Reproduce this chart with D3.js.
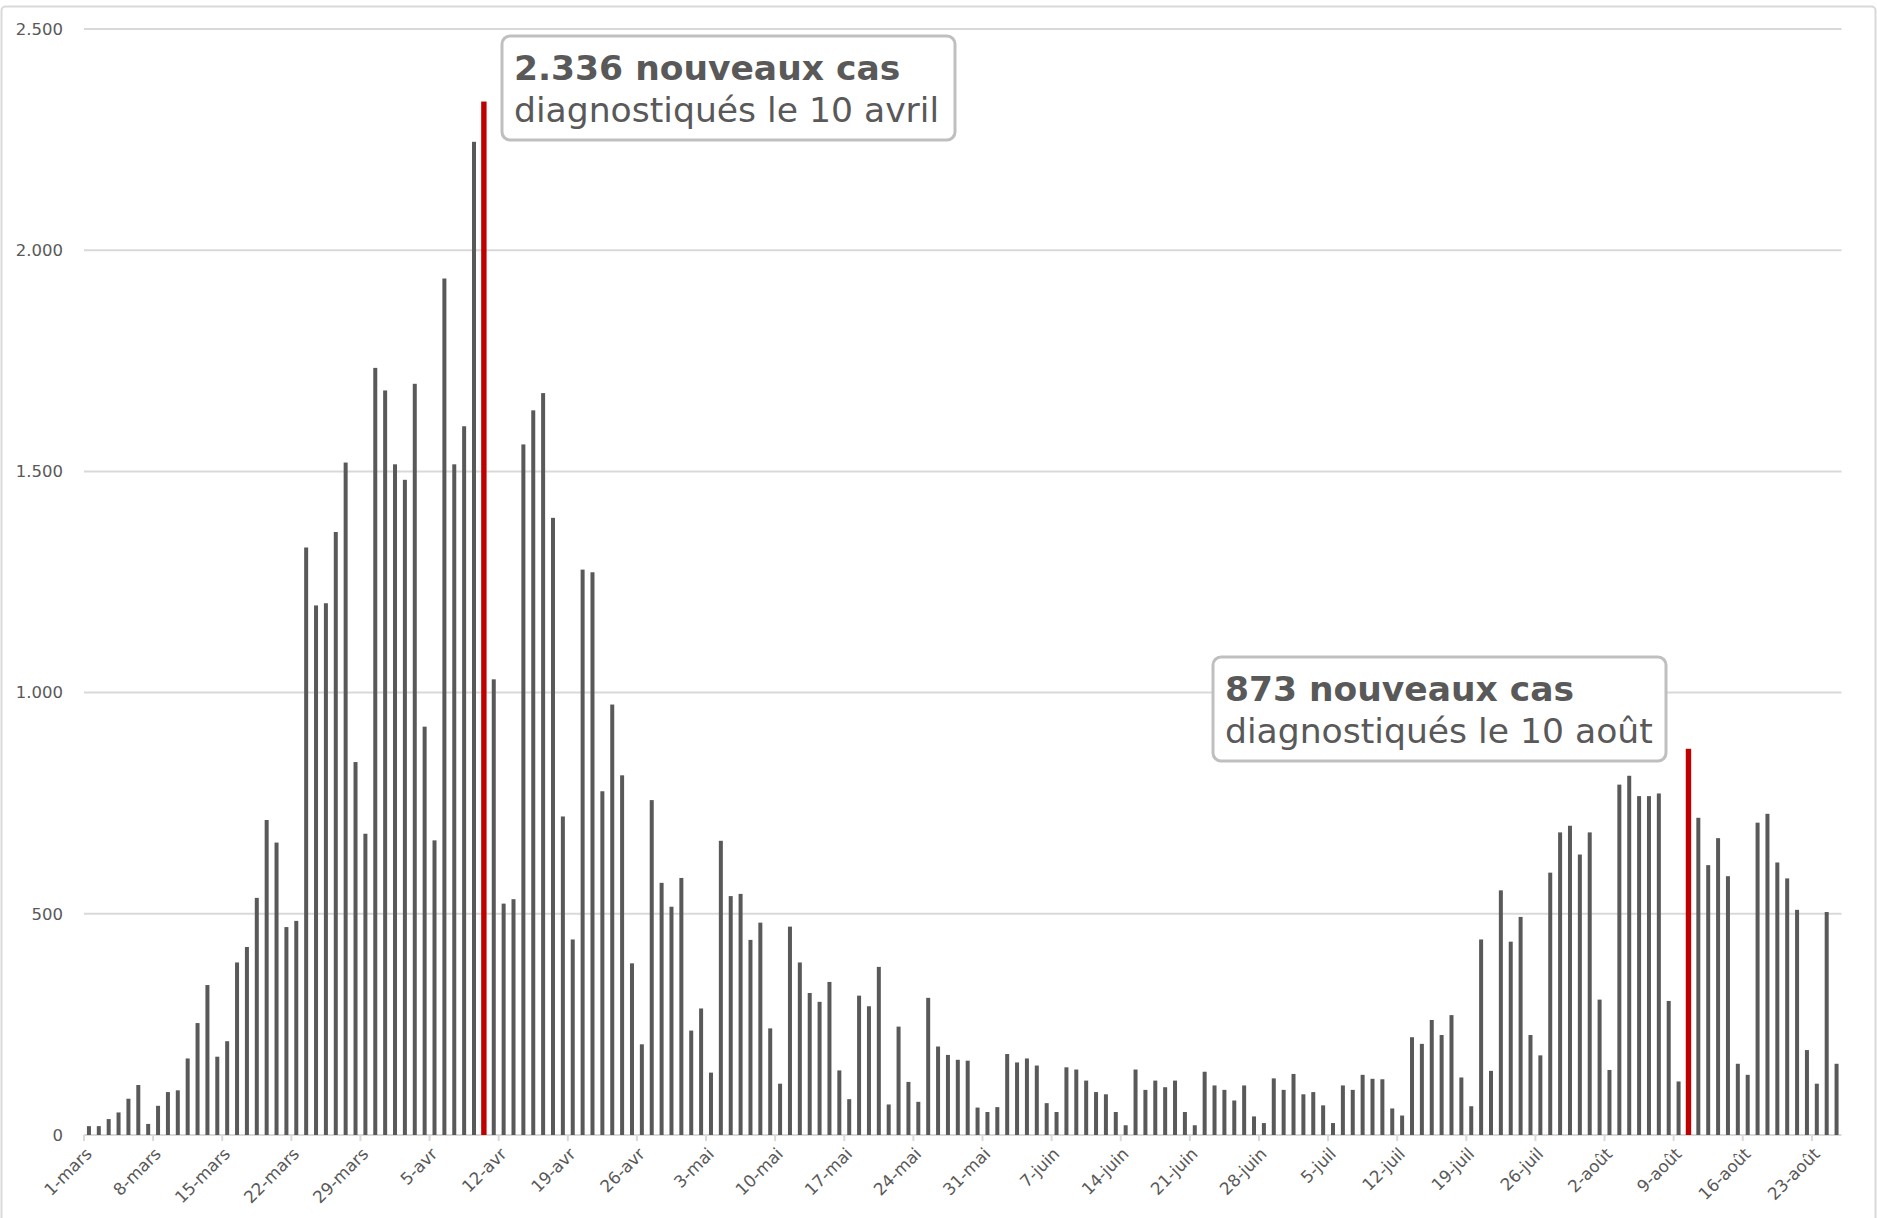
<!DOCTYPE html>
<html><head><meta charset="utf-8">
<script src="https://cdn.jsdelivr.net/npm/d3@7"></script>
<style>
html,body{margin:0;padding:0;background:#fff;}
svg{display:block;font-family:"DejaVu Sans",Verdana,sans-serif;}
</style></head>
<body>
<svg id="chart" width="1877" height="1218"></svg>
<script>
// Daily new cases, 1 March (index 0) to 25 August (index 177)
const cases = [
  20,20,36,51,82,113,25,66,97,101,173,253,339,177,212,390,425,536,712,661,470,484,1328,1197,1202,1363,1520,843,681,1734,1683,
  1516,1481,1698,923,666,1936,1516,1602,2245,2336,1030,523,533,1561,1638,1677,1395,720,442,1278,1272,777,973,813,388,205,757,570,516,
  581,236,286,141,665,540,545,441,480,241,116,471,390,321,301,346,146,81,315,291,380,69,245,120,75,310,200,181,170,168,62,
  52,63,183,164,173,157,72,52,153,148,123,97,92,52,22,148,102,123,108,123,52,22,143,112,102,78,112,42,27,128,
  102,138,92,97,67,27,112,102,136,127,126,60,44,221,206,260,226,271,130,65,442,145,553,437,493,226,180,593,684,699,634,684,306,
  147,792,812,766,766,772,303,121,873,717,610,671,585,161,136,706,726,616,580,509,192,116,504,161
];
const tickLabels = ["1-mars","8-mars","15-mars","22-mars","29-mars","5-avr","12-avr","19-avr","26-avr","3-mai","10-mai","17-mai","24-mai","31-mai","7-juin","14-juin","21-juin","28-juin","5-juil","12-juil","19-juil","26-juil","2-août","9-août","16-août","23-août"];
const yTicks = [0,500,1000,1500,2000,2500];
const highlighted = [40,162];
const annotations = [
  {index:40, bold:"2.336 nouveaux cas", text:"diagnostiqués le 10 avril"},
  {index:162, bold:"873 nouveaux cas", text:"diagnostiqués le 10 août"}
];

const svg = d3.select("#chart");
const grey = "#595959", gridC = "#d9d9d9";
const x0 = 84, x1 = 1841.5, yBase = 1135, yTop = 29;

const x = d3.scaleBand().domain(d3.range(cases.length)).range([x0, x1]).padding(0);
const y = d3.scaleLinear().domain([0, 2500]).range([yBase, yTop]);
const fmt = v => d3.format(",")(v).replace(/,/g, ".");

// outer frame
svg.append("rect").attr("x",1.5).attr("y",6.5).attr("width",1874).attr("height",1260)
  .attr("rx",4).attr("fill","none").attr("stroke",gridC).attr("stroke-width",2);

// gridlines
svg.append("g").selectAll("line").data(yTicks).join("line")
  .attr("x1", x0).attr("x2", x1)
  .attr("y1", d => y(d)).attr("y2", d => y(d))
  .attr("stroke", gridC).attr("stroke-width", 2);

// y labels
svg.append("g").selectAll("text").data(yTicks).join("text")
  .attr("x", 63).attr("y", d => y(d)).attr("dy","0.35em")
  .attr("text-anchor","end").attr("font-size",16.5).attr("fill",grey)
  .text(d => fmt(d));

// bars
const bw = 4;
svg.append("g").selectAll("rect").data(cases).join("rect")
  .attr("x", (d,i) => x(i) + x.bandwidth()/2 - (highlighted.includes(i) ? 2.7 : bw/2))
  .attr("width", (d,i) => highlighted.includes(i) ? 5.4 : bw)
  .attr("y", d => y(d))
  .attr("height", d => yBase - y(d))
  .attr("fill", (d,i) => highlighted.includes(i) ? "#c00000" : grey);

// x ticks & labels
const tickIdx = tickLabels.map((t,k) => k*7);
svg.append("g").selectAll("line").data(tickIdx).join("line")
  .attr("x1", i => x(i)).attr("x2", i => x(i))
  .attr("y1", yBase).attr("y2", yBase + 6)
  .attr("stroke", gridC).attr("stroke-width", 2);
svg.append("g").selectAll("text").data(tickLabels).join("text")
  .attr("text-anchor","end").attr("font-size",16.8).attr("fill",grey)
  .attr("transform",(t,k) => `translate(${x(k*7) + x.bandwidth()/2 + 4},${yBase + 20}) rotate(-45)`)
  .text(t => t);

// annotation boxes
const boxes = [{x:502,y:36},{x:1213,y:657}];
annotations.forEach((a,k) => {
  const g = svg.append("g").attr("transform",`translate(${boxes[k].x},${boxes[k].y})`);
  g.append("rect").attr("width",453).attr("height",104).attr("rx",8)
    .attr("fill","#fff").attr("stroke","#bfbfbf").attr("stroke-width",3);
  g.append("text").attr("x",12).attr("y",44).attr("font-size",34.5).attr("font-weight","bold")
    .attr("fill",grey).text(a.bold);
  g.append("text").attr("x",12).attr("y",86).attr("font-size",34.6)
    .attr("fill",grey).text(a.text);
});
</script>
</body></html>
